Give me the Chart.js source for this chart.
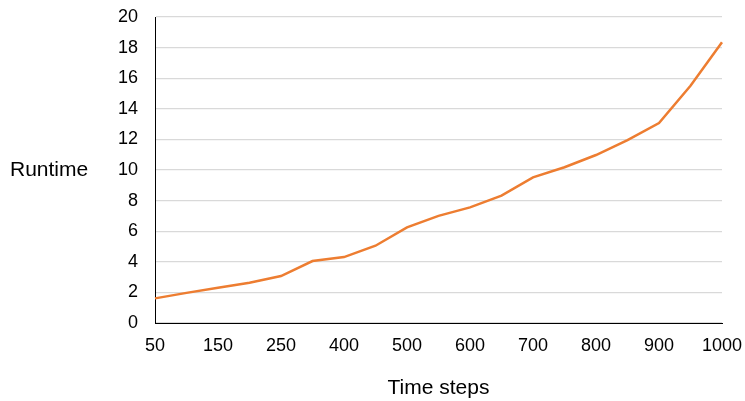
<!DOCTYPE html>
<html lang="en">
<head>
  <meta charset="UTF-8" />
  <title>Runtime vs Time steps</title>
  <style>
    body {
      margin: 0;
      padding: 0;
      background: #ffffff;
    }
    #chartBox {
      width: 745px;
      height: 401px;
    }
  </style>
  <script src="https://cdn.jsdelivr.net/npm/chart.js"></script>
</head>
<body>
  <div id="chartBox">
    <canvas id="runtimeChart"></canvas>
  </div>

  <script>
    // data
    const timeSteps = [50, 100, 150, 200, 250, 300, 400, 450, 500, 550, 600, 650, 700, 750, 800, 850, 900, 950, 1000];
    const runtime = [1.61, 1.97, 2.3, 2.63, 3.07, 4.05, 4.31, 5.05, 6.25, 7.0, 7.56, 8.32, 9.52, 10.18, 10.98, 11.96, 13.07, 15.5, 18.35];
    const xTickLabels = ['50', '150', '250', '400', '500', '600', '700', '800', '900', '1000'];
    const yTicks = [0, 2, 4, 6, 8, 10, 12, 14, 16, 18, 20];

    const fontFamily = '"Liberation Sans", Arial, sans-serif';

    // horizontal y axis title, like the original
    const sideTitle = {
      id: 'sideTitle',
      afterDraw(chart) {
        const ctx = chart.ctx;
        const area = chart.chartArea;
        ctx.save();
        ctx.font = '21px ' + fontFamily;
        ctx.fillStyle = '#000';
        ctx.textAlign = 'left';
        ctx.textBaseline = 'middle';
        ctx.fillText('Runtime', 10, (area.top + area.bottom) / 2);
        ctx.restore();
      }
    };

    const ctx = document.getElementById('runtimeChart').getContext('2d');
    new Chart(ctx, {
      type: 'line',
      data: {
        labels: timeSteps.map(String),
        datasets: [{
          label: 'Runtime',
          data: runtime,
          borderColor: '#ED7D31',
          borderWidth: 2.5,
          pointRadius: 0,
          tension: 0,
          fill: false
        }]
      },
      options: {
        responsive: true,
        maintainAspectRatio: false,
        animation: false,
        layout: {
          padding: { left: 100, right: 23, top: 17, bottom: 0 }
        },
        plugins: {
          legend: { display: false },
          tooltip: { enabled: false }
        },
        scales: {
          x: {
            offset: false,
            grid: { display: false, drawTicks: false },
            border: { display: true, color: '#000', width: 1 },
            ticks: {
              autoSkip: false,
              maxRotation: 0,
              padding: 12,
              color: '#000',
              font: { family: fontFamily, size: 18 },
              callback: function (value) {
                const lbl = this.getLabelForValue(value);
                return xTickLabels.includes(lbl) ? lbl : '';
              }
            },
            title: {
              display: true,
              text: 'Time steps',
              color: '#000',
              padding: 0,
              font: { family: fontFamily, size: 21 }
            },
            afterFit(scale) {
              scale.height = 78;
              scale.paddingLeft = 0;
              scale.paddingRight = 0;
            }
          },
          y: {
            min: 0,
            max: 20,
            afterBuildTicks(scale) {
              scale.ticks = yTicks.map(v => ({ value: v }));
            },
            grid: { color: '#d9d9d9', lineWidth: 1.3, drawTicks: false },
            border: { display: true, color: '#000', width: 1 },
            ticks: {
              padding: 17,
              color: '#000',
              font: { family: fontFamily, size: 18 }
            },
            afterFit(scale) {
              scale.width = 55;
              scale.paddingTop = 0;
              scale.paddingBottom = 0;
            }
          }
        }
      },
      plugins: [sideTitle]
    });
  </script>
</body>
</html>
